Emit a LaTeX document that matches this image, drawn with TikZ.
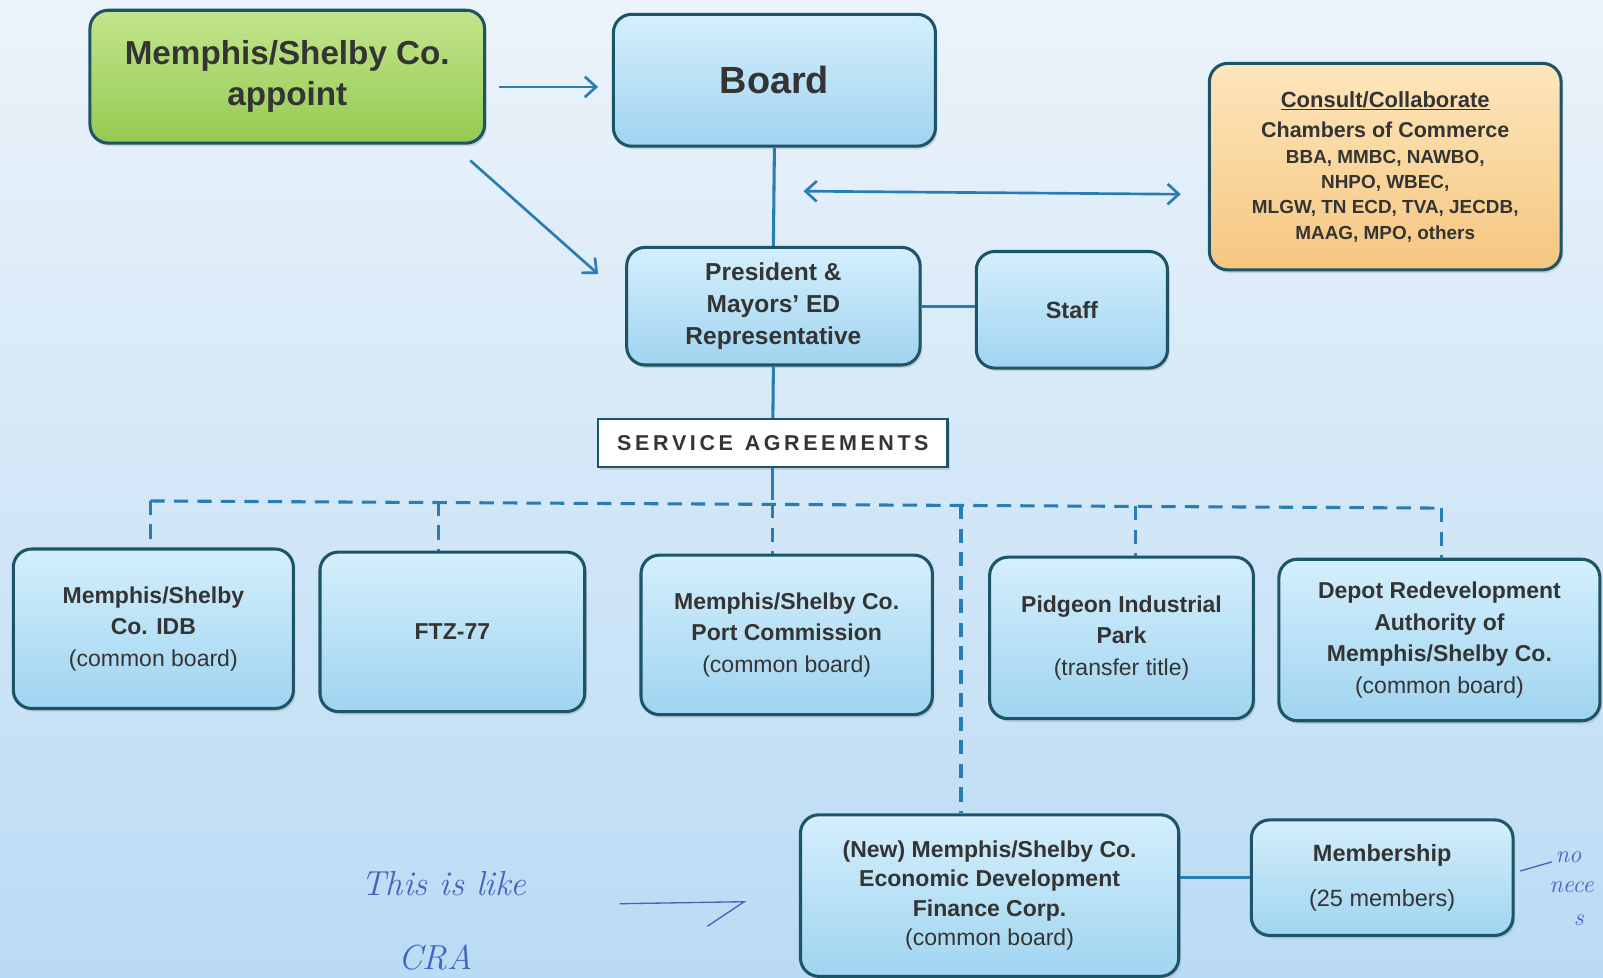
\documentclass[tikz,border=0pt]{standalone}
\usepackage{fontspec}
\setmainfont{Liberation Sans}
\newfontfamily\penfont{Latin Modern Roman}
\usetikzlibrary{arrows.meta,shadows}
\definecolor{bordc}{RGB}{28,84,104}
\definecolor{linec}{RGB}{40,125,180}
\definecolor{txtc}{RGB}{52,52,52}
\definecolor{bluetop}{RGB}{212,239,252}
\definecolor{bluebot}{RGB}{160,212,240}
\definecolor{greentop}{RGB}{196,229,140}
\definecolor{greenbot}{RGB}{148,202,82}
\definecolor{orangetop}{RGB}{254,230,188}
\definecolor{orangebot}{RGB}{245,198,128}
\definecolor{bgtop}{RGB}{236,243,250}
\definecolor{bgbot}{RGB}{186,219,245}
\definecolor{penc}{RGB}{70,100,190}
\tikzset{
  x=1pt, y=-1pt,
  boxbase/.style={draw=bordc, line width=3pt, rounded corners=18pt, align=center,
    text=txtc, inner sep=4pt,
    drop shadow={opacity=0.25, shadow xshift=2pt, shadow yshift=-3pt}},
  bluebox/.style={boxbase, top color=bluetop, bottom color=bluebot},
  greenbox/.style={boxbase, top color=greentop, bottom color=greenbot},
  orangebox/.style={boxbase, top color=orangetop, bottom color=orangebot},
  conn/.style={draw=linec, line width=3pt},
  dconn/.style={draw=linec, line width=3pt, dash pattern=on 14pt off 9pt},
  arr/.style={draw=linec, line width=2.6pt, -{Straight Barb[length=11pt,width=20pt,line width=2.6pt]}},
  darr/.style={draw=linec, line width=2.6pt, {Straight Barb[length=11pt,width=20pt,line width=2.6pt]}-{Straight Barb[length=11pt,width=20pt,line width=2.6pt]}},
  pen/.style={text=penc, font=\penfont\itshape\fontsize{34}{40}\selectfont},
  pensmall/.style={text=penc, font=\penfont\itshape\fontsize{24}{28}\selectfont},
}
\begin{document}
\begin{tikzpicture}
\useasboundingbox (0,0) rectangle (1568,956);
\shade[top color=bgtop, bottom color=bgbot] (0,0) rectangle (1568,956);

% nodes
\node[greenbox, minimum width=386pt, minimum height=130pt,
  font=\bfseries\fontsize{32.5}{40}\selectfont] (gov) at (281,75) {Memphis/Shelby Co.\\appoint};
\node[bluebox, minimum width=315pt, minimum height=129pt,
  font=\bfseries\fontsize{37}{44}\selectfont] (board) at (757.5,78.5) {Board};
\node[orangebox, minimum width=344pt, minimum height=202pt,
  font=\bfseries\fontsize{18.5}{24.8}\selectfont] (consult) at (1355,163)
  {{\fontsize{21.5}{26}\selectfont\underline{Consult/Collaborate}}\\[5pt]
   {\fontsize{21}{26}\selectfont Chambers of Commerce}\\
   BBA, MMBC, NAWBO,\\ NHPO, WBEC,\\ MLGW, TN ECD, TVA, JECDB,\\ MAAG, MPO, others};
\node[bluebox, minimum width=287pt, minimum height=115pt,
  font=\bfseries\fontsize{24}{31}\selectfont] (pres) at (756.5,299.5)
  {President \&\\Mayors' ED\\Representative};
\node[bluebox, minimum width=187pt, minimum height=114pt,
  font=\bfseries\fontsize{23}{30}\selectfont] (staff) at (1048.5,303) {Staff};
\node[draw=bordc, line width=2.5pt, fill=white, minimum width=342pt, minimum height=47pt,
  text=txtc, font=\bfseries\fontsize{21}{26}\selectfont,
  drop shadow={opacity=0.25, shadow xshift=2pt, shadow yshift=-3pt}] (sa) at (756,433.5)
  {S\,E\,R\,V\,I\,C\,E\ \ A\,G\,R\,E\,E\,M\,E\,N\,T\,S};

\node[bluebox, minimum width=274pt, minimum height=156pt,
  font=\fontsize{22.5}{31}\selectfont] (idb) at (150,615)
  {\textbf{Memphis/Shelby}\\\textbf{Co. IDB}\\(common board)};
\node[bluebox, minimum width=259pt, minimum height=156pt,
  font=\bfseries\fontsize{22.5}{31}\selectfont] (ftz) at (442.5,618) {FTZ-77};
\node[bluebox, minimum width=285pt, minimum height=156pt,
  font=\fontsize{22.5}{31}\selectfont] (port) at (769.5,621)
  {\textbf{Memphis/Shelby Co.}\\\textbf{Port Commission}\\(common board)};
\node[bluebox, minimum width=258pt, minimum height=158pt,
  font=\fontsize{22.5}{31}\selectfont] (pid) at (1097,624)
  {\textbf{Pidgeon Industrial}\\\textbf{Park}\\(transfer title)};
\node[bluebox, minimum width=314pt, minimum height=158pt,
  font=\fontsize{22.5}{31}\selectfont] (depot) at (1408,626)
  {\textbf{Depot Redevelopment}\\\textbf{Authority of}\\\textbf{Memphis/Shelby Co.}\\(common board)};
\node[bluebox, minimum width=370pt, minimum height=158pt,
  font=\fontsize{22.5}{29}\selectfont] (edfc) at (968,876)
  {\textbf{(New) Memphis/Shelby Co.}\\\textbf{Economic Development}\\\textbf{Finance Corp.}\\(common board)};
\node[bluebox, minimum width=256pt, minimum height=113pt,
  font=\fontsize{23}{44}\selectfont] (memb) at (1352,858.5)
  {\textbf{Membership}\\(25 members)};

% connectors
\coordinate (g1) at (488,85);
\coordinate (g2) at (585,85);
\coordinate (d1) at (460,157);
\coordinate (d2) at (585,268);
\draw[arr] (g1) -- (g2);
\draw[arr] (d1) -- (d2);
\draw[conn] (board.south) -- (pres.north);
\coordinate (c1) at (786,187);
\coordinate (c2) at (1155,190);
\draw[darr] (c1) -- (c2);
\draw[conn] (pres.east) -- (staff.west |- pres.east);
\draw[conn] (pres.south) -- (sa.north);

\coordinate (hL) at (147,490);
\coordinate (hR) at (1410,497);
\coordinate (hm) at (756,493);
\coordinate (sab) at (756,475);
\draw[conn] (sa.south) -- (sab);
\draw[dconn] (hL) -- (hR);
\draw[dconn] (hL) -- (idb.north -| hL);
\draw[dconn] (429,491) -- (ftz.north -| 429,0);
\draw[dconn] (hm) -- (port.north -| hm);
\draw[dconn] (sab) -- (hm);
\draw[dconn] (940,494) -- (edfc.north -| 940,0);
\draw[dconn] (1111,495) -- (pid.north -| 1111,0);
\draw[dconn] (hR) -- (depot.north -| hR);
\draw[conn] (edfc.east |- memb.west) -- (memb.west);

% handwritten notes
\node[pen, anchor=west] (n1) at (350,864) {This is like};
\node[pen, anchor=west] (n2) at (386,937) {CRA};
\coordinate (p1) at (606,884);
\coordinate (p2) at (728,882);
\draw[penc, line width=1.3pt] (p1) -- (p2) -- (692,906);
\node[pensmall, anchor=west] (n3) at (1518,838) {no};
\node[pensmall, anchor=west] (n4) at (1512,868) {nece};
\node[pensmall, anchor=west] (n5) at (1536,900) {s};
\draw[penc, line width=1.3pt] (1487,852) -- (1518,843);
\end{tikzpicture}
\end{document}
